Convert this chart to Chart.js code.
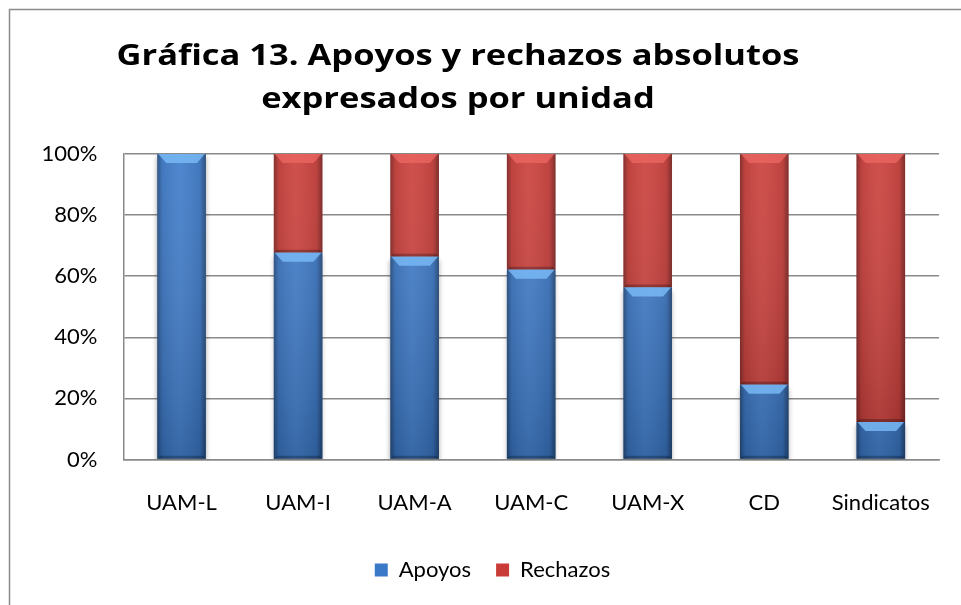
<!DOCTYPE html>
<html>
<head>
<meta charset="utf-8">
<script src="https://cdn.jsdelivr.net/npm/chart.js@4/dist/chart.umd.min.js"></script>
<style>
  html, body { margin: 0; padding: 0; background: #fff; overflow: hidden; }
  #wrap { width: 961px; height: 605px; }
</style>
</head>
<body>
<div id="wrap"><canvas id="chart" width="961" height="605"></canvas></div>
<script>
// Données du graphique
const categories = ['UAM-L', 'UAM-I', 'UAM-A', 'UAM-C', 'UAM-X', 'CD', 'Sindicatos'];
const apoyos = [100, 67.7, 66.4, 62.1, 56.3, 24.5, 12.3];
const rechazos = [0, 32.3, 33.6, 37.9, 43.7, 75.5, 87.7];
const yTicks = [0, 20, 40, 60, 80, 100];
const titleLines = ['Gráfica 13. Apoyos y rechazos absolutos', 'expresados por unidad'];

const FONT = 'Lato, "Open Sans", sans-serif';
const TITLE_FONT = '"Open Sans", Lato, sans-serif';
const blue = '#3a78c8';
const red = '#c93b37';
// couleur du biseau haut, par série
const bevelColors = ['rgba(120,185,245,0.85)', 'rgba(232,100,95,0.85)'];

// Cadre + titre
const framePlugin = {
  id: 'frame',
  beforeDraw(chart) {
    const c = chart.ctx;
    c.save();
    c.fillStyle = '#fff';
    c.fillRect(0, 0, chart.width, chart.height);
    c.strokeStyle = '#8c8c8c';
    c.lineWidth = 1.5;
    c.strokeRect(9.5, 9.5, 1200, 1200);
    c.fillStyle = '#000';
    c.font = 'bold 28px ' + TITLE_FONT;
    c.textAlign = 'center';
    c.textBaseline = 'alphabetic';
    // le titre de la référence est plus large : on étire horizontalement
    const w0 = c.measureText(titleLines[0]).width;
    const sx = 683 / w0;
    c.translate(458, 0);
    c.scale(sx, 1);
    c.fillText(titleLines[0], 0, 65);
    c.fillText(titleLines[1], 0, 108);
    c.restore();
  }
};

// Effet biseauté sur les barres
const bevelPlugin = {
  id: 'bevel',
  beforeDatasetDraw(chart, args) {
    if (args.index === 0) {
      const c = chart.ctx;
      c.save();
      c.shadowColor = 'rgba(0,0,0,0.35)';
      c.shadowBlur = 5;
      c.shadowOffsetY = 3;
    }
  },
  afterDatasetDraw(chart, args) {
    const c = chart.ctx;
    if (args.index === 0) c.restore();
    const meta = args.meta;
    const area = chart.chartArea;
    meta.data.forEach(el => {
      const top = Math.min(el.y, el.base);
      const bottom = Math.max(el.y, el.base);
      const h = bottom - top;
      if (h < 1) return;
      const left = el.x - el.width / 2;
      const right = el.x + el.width / 2;
      const w = el.width;
      c.save();
      // dégradé horizontal
      const g = c.createLinearGradient(left, 0, right, 0);
      g.addColorStop(0, 'rgba(0,0,0,0.38)');
      g.addColorStop(0.1, 'rgba(0,0,0,0.08)');
      g.addColorStop(0.45, 'rgba(255,255,255,0.05)');
      g.addColorStop(0.88, 'rgba(0,0,0,0.08)');
      g.addColorStop(1, 'rgba(0,0,0,0.42)');
      c.fillStyle = g;
      c.fillRect(left, top, w, h);
      // dégradé vertical
      const gv = c.createLinearGradient(0, area.top, 0, area.bottom);
      gv.addColorStop(0, 'rgba(255,255,255,0.06)');
      gv.addColorStop(1, 'rgba(0,0,0,0.18)');
      c.fillStyle = gv;
      c.fillRect(left, top, w, h);
      const b = Math.min(9, h / 2);
      // biseau haut
      c.beginPath();
      c.moveTo(left + 1, top);
      c.lineTo(right - 1, top);
      c.lineTo(right - b, top + b);
      c.lineTo(left + b, top + b);
      c.closePath();
      c.fillStyle = bevelColors[args.index];
      c.fill();
      // biseau bas
      c.beginPath();
      c.moveTo(left, bottom);
      c.lineTo(right, bottom);
      c.lineTo(right - 3, bottom - 3);
      c.lineTo(left + 3, bottom - 3);
      c.closePath();
      c.fillStyle = 'rgba(0,0,0,0.25)';
      c.fill();
      c.restore();
    });
  }
};

const ctx = document.getElementById('chart').getContext('2d');
const chart = new Chart(ctx, {
  type: 'bar',
  data: {
    labels: categories,
    datasets: [
      { label: 'Apoyos', data: apoyos, backgroundColor: blue, borderWidth: 0 },
      { label: 'Rechazos', data: rechazos, backgroundColor: red, borderWidth: 0 }
    ]
  },
  options: {
    responsive: false,
    animation: false,
    events: [],
    layout: { padding: { top: 154, left: 40, right: 16, bottom: 14 } },
    datasets: { bar: { barPercentage: 0.417, categoryPercentage: 1 } },
    plugins: {
      title: { display: false },
      tooltip: { enabled: false },
      legend: {
        position: 'bottom',
        labels: {
          font: { family: FONT, size: 22 },
          color: '#000',
          boxWidth: 13,
          boxHeight: 13,
          padding: 25
        }
      }
    },
    scales: {
      x: {
        stacked: true,
        grid: { display: false, drawTicks: false },
        border: { display: true, color: '#8a8a8a', width: 1.5 },
        ticks: { font: { family: FONT, size: 22 }, color: '#000', padding: 30, maxRotation: 0 },
        afterFit(scale) { scale.height = 74.5; }
      },
      y: {
        stacked: true,
        min: 0,
        max: 100,
        afterBuildTicks(scale) { scale.ticks = yTicks.map(v => ({ value: v })); },
        grid: { color: '#8a8a8a', lineWidth: 1.5, drawTicks: false },
        border: { display: true, color: '#8a8a8a', width: 1.5 },
        ticks: {
          font: { family: FONT, size: 22 },
          color: '#000',
          padding: 26,
          callback: v => v + '%'
        },
        afterFit(scale) { scale.width = 83.3; }
      }
    }
  },
  plugins: [framePlugin, bevelPlugin]
});
</script>
</body>
</html>
